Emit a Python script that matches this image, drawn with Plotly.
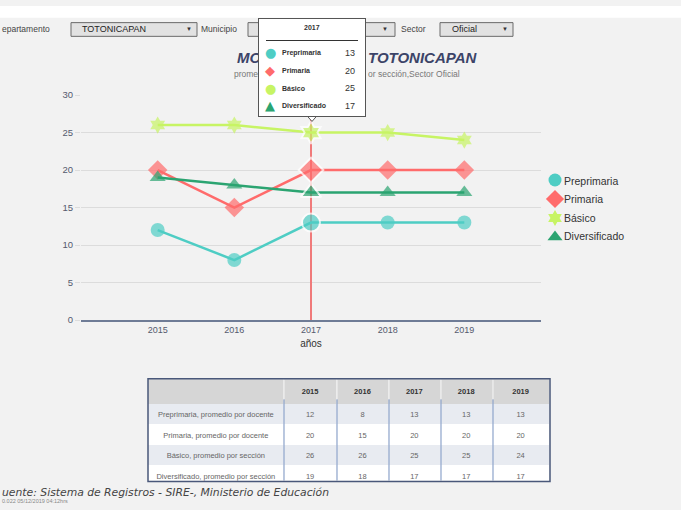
import plotly.graph_objects as go

W, H = 681, 510
def X(px): return px / W
def Y(py): return 1 - py / H

years = ["2015", "2016", "2017", "2018", "2019"]
series_names = ["Preprimaria", "Primaria", "Básico", "Diversificado"]
row_labels = ["Preprimaria, promedio por docente", "Primaria, promedio por docente",
              "Básico, promedio por sección", "Diversificado, promedio por sección"]
preprimaria = [12, 8, 13, 13, 13]
primaria = [20, 15, 20, 20, 20]
basico = [26, 26, 25, 25, 24]
diversificado = [19, 18, 17, 17, 17]
values = [preprimaria, primaria, basico, diversificado]
colors = ["#4ECDC4", "#FF6B6B", "#C7F464", "#2BA471"]
symbols = ["circle", "diamond", "hexagram", "triangle-up"]
sizes = [14, 15, 13, 14]
hover_idx = 2

BG = "#f2f2f2"
fig = go.Figure()

for name, vals, c, s, ms in zip(series_names, values, colors, symbols, sizes):
    msz = [ms + (4 if i == hover_idx else 0) for i in range(len(vals))]
    mlw = [2 if i == hover_idx else 0 for i in range(len(vals))]
    fig.add_trace(go.Scatter(x=years, y=vals, mode="lines+markers", name=name,
                             line=dict(color=c, width=2.5),
                             marker=dict(symbol=s, size=msz, color=c,
                                         line=dict(color="white", width=mlw)),
                             showlegend=False, hoverinfo="skip"))
    fig.add_trace(go.Scatter(x=[None], y=[None], mode="markers", name=" ",
                             marker=dict(symbol=s, size=ms - 1, color=c), showlegend=True))

# table
col_w = [136, 53, 52, 52, 52, 57]
alt = ["#e8ebf1", "#ffffff", "#e8ebf1", "#ffffff"]
nb_labels = [l.replace(" ", "\u00a0") for l in row_labels]
fig.add_trace(go.Table(
    domain=dict(x=[X(148), X(550)], y=[Y(486), Y(381)]),
    columnwidth=col_w,
    header=dict(values=[""] + ["<b>%s</b>" % y for y in years],
                fill_color="#d6d6d6", line=dict(width=0, color="#d6d6d6"),
                font=dict(family="Liberation Sans", size=7.5, color="#333"),
                align="center", height=21),
    cells=dict(values=[nb_labels] + [[v[i] for v in values] for i in range(len(years))],
               fill_color=[alt] * 6, line=dict(width=0, color="#ffffff"),
               font=dict(family="Liberation Sans", size=7.5, color="#666"),
               align="center", height=20.5)))

shapes = []
shapes.append(dict(type="rect", xref="paper", yref="paper", x0=0, x1=1, y0=Y(12), y1=1,
                   fillcolor="white", line=dict(width=0), layer="below"))
shapes.append(dict(type="line", xref="x", yref="y", x0=hover_idx, x1=hover_idx, y0=0, y1=30,
                   line=dict(color="#F07A7A", width=2), layer="between"))
tot = sum(col_w)
acc = 148
for w in col_w[:-1]:
    acc += w * (550 - 148) / tot
    shapes.append(dict(type="line", xref="paper", yref="paper", x0=X(acc), x1=X(acc),
                       y0=Y(485), y1=Y(402), line=dict(color="#8ea4cc", width=1.2)))
    shapes.append(dict(type="line", xref="paper", yref="paper", x0=X(acc), x1=X(acc),
                       y0=Y(402), y1=Y(382), line=dict(color="#f4f4f4", width=1)))
shapes.append(dict(type="rect", xref="paper", yref="paper", x0=X(148), x1=X(550),
                   y0=Y(486), y1=Y(381), line=dict(color="#4a587a", width=1.5)))
for x0, x1 in [(71, 197), (248, 395), (440, 513)]:
    shapes.append(dict(type="rect", xref="paper", yref="paper", x0=X(x0), x1=X(x1),
                       y0=Y(31), y1=Y(17), fillcolor="#e2e2e2",
                       line=dict(color="#6a6a6a", width=1)))
shapes.append(dict(type="path", xref="paper", yref="paper",
                   path="M %f %f L %f %f L %f %f Z" % (X(306), Y(111), X(312), Y(118), X(318), Y(111)),
                   fillcolor="white", line=dict(color="#555", width=1)))

ann = []
def txt(x, y, t, size=9, color="#444", xanchor="left", family="Liberation Sans", **kw):
    ann.append(dict(x=X(x), y=Y(y), xref="paper", yref="paper", text=t, showarrow=False,
                    xanchor=xanchor, yanchor="middle",
                    font=dict(size=size, color=color, family=family), **kw))

txt(0, 23, "epartamento", 8.5, "#444")
txt(80, 24, "TOTONICAPAN", 9, "#222")
txt(189, 23, "▼", 6, "#333", "center")
txt(199, 23, "Municipio", 8.5, "#444")
txt(385, 23, "▼", 6, "#333", "center")
txt(399, 23, "Sector", 8.5, "#444")
txt(450, 24, "Oficial", 9, "#222")
txt(505, 23, "▼", 6, "#333", "center")

txt(235, 53, "<b><i>MO</i></b>", 15, "#3c4468")
txt(366, 53, "<b><i>TOTONICAPAN</i></b>", 15, "#3c4468")
txt(232, 69, "promed", 8.5, "#777")
txt(366, 69, "or sección,Sector Oficial", 8.5, "#777")

# legend labels (symbols come from the plotly legend)
for i, name in enumerate(series_names):
    txt(562, 179 + 18.7 * i, name, 10.5, "#333")

txt(0, 497, "<i>uente: Sistema de Registros - SIRE-, Ministerio de Educación</i>", 10.8, "#444",
    family="DejaVu Sans")
txt(0, 506, "0.022 05/12/2019 04:12hrs", 5.5, "#888")

# tooltip
ann.append(dict(x=X(312), y=Y(62.5), xref="paper", yref="paper", text=" ", showarrow=False,
                xanchor="center", yanchor="middle", width=106, height=97, borderpad=0,
                bgcolor="white", bordercolor="#555", borderwidth=1))
txt(312, 22, "<b>2017</b>", 7, "#333", "center")
ann.append(dict(x=X(312), y=Y(35), xref="paper", yref="paper", text="", showarrow=False,
                xanchor="center", yanchor="middle", width=92, height=1, borderpad=0,
                bgcolor="#333", borderwidth=0, font=dict(size=1)))
glyphs = ["●", "◆", "●", "▲"]
for i, (name, vals, c, g) in enumerate(zip(series_names, values, colors, glyphs)):
    yy = 48 + 18 * i
    txt(270, yy, g, 13, c, "center", family="DejaVu Sans")
    txt(280, yy, "<b>%s</b>" % name, 7, "#333")
    txt(357, yy, str(vals[hover_idx]), 9, "#333", "right")

fig.update_layout(
    width=W, height=H, margin=dict(l=0, r=0, t=0, b=0),
    paper_bgcolor=BG, plot_bgcolor=BG,
    font=dict(family="Liberation Sans", color="#444"),
    xaxis=dict(domain=[X(81), X(541)], type="category", range=[-1, 5],
               showgrid=False, showline=True, linecolor="#6f7c96", linewidth=1.5,
               ticks="", tickfont=dict(size=9, color="#555a6e"),
               title=dict(text="años", font=dict(size=10, color="#333"), standoff=6),
               zeroline=False, fixedrange=True),
    yaxis=dict(domain=[Y(321), Y(91)], range=[0, 30], dtick=5,
               showgrid=True, gridcolor="#dcdcdc", gridwidth=1,
               ticks="outside", ticklen=5, tickcolor="#dcdcdc",
               tickfont=dict(size=9.5, color="#555a6e"), zeroline=False, showline=False),
    legend=dict(x=X(535), y=Y(163), xanchor="left", yanchor="top",
                bgcolor="rgba(0,0,0,0)", font=dict(size=10, color="#333"),
                tracegroupgap=0, itemwidth=30),
    shapes=shapes, annotations=ann, hovermode=False,
)
fig.write_html("out.html", config={"displayModeBar": False},
               post_script="document.body.style.margin='0px';document.body.style.overflow='hidden';")
